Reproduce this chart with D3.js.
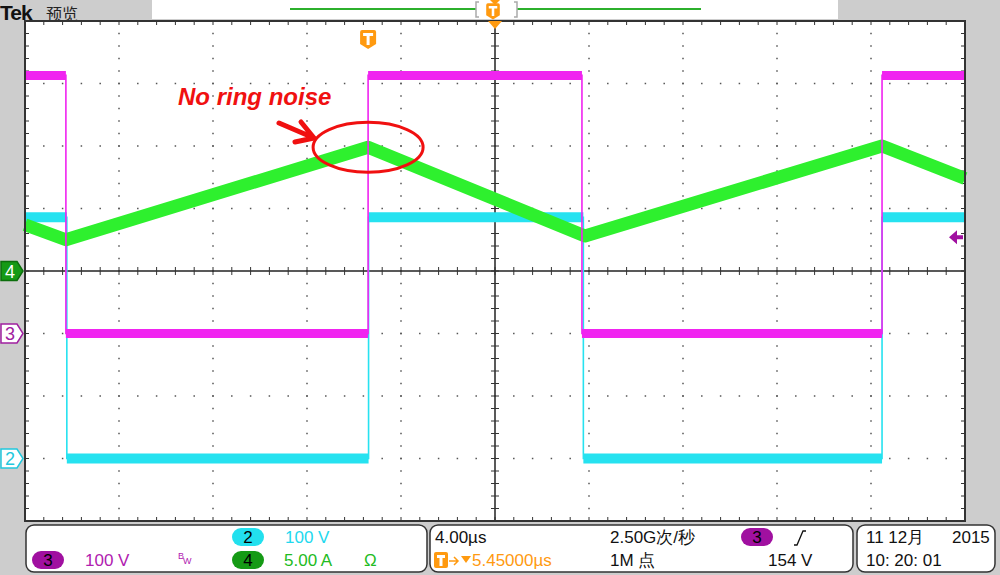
<!DOCTYPE html>
<html><head><meta charset="utf-8">
<script src="https://cdn.jsdelivr.net/npm/d3@7/dist/d3.min.js"></script>
<style>
html,body{margin:0;padding:0;background:#cdcdcd;}
svg{display:block;font-family:"Liberation Sans",Arial,sans-serif;}
</style></head><body>
<svg id="c" width="1000" height="575"></svg>
<script>
// ---- data (time in µs, 4 µs/div, trigger-centred) ----
const ch3Edges = [-20, -18.26, -5.40, 3.70, 16.47, 20];   // magenta edges
const ch3Volts = [413, 0, 413, 0, 413];                    // 100 V/div
const ch2Edges = [-20, -18.22, -5.38, 3.76, 16.47, 20];   // cyan edges
const ch2Volts = [386, 0, 386, 0, 386];                    // 100 V/div
const ch4Times = [-20, -18.26, -5.40, 3.83, 16.47, 20];   // green vertices
const ch4Amps  = [3.7, 2.5, 9.9, 2.8, 10.0, 7.4];          // 5 A/div
const offsets  = {ch2: -3, ch3: -1, ch4: 0};               // ground marker, div
const scales   = {ch2: 100, ch3: 100, ch4: 5};
const trigLevel = 154;                                     // V on ch3
const statusRow1 = ["2", "100 V", "4.00µs", "2.50G次/秒", "3", "11 12月", "2015"];
const statusRow2 = ["3", "100 V", "4", "5.00 A", "Ω", "5.45000µs", "1M 点", "154 V", "10: 20: 01"];

const svg = d3.select("#c");
const L = 25, R = 965, T = 21, B = 521;
const x = d3.scaleLinear().domain([-20, 20]).range([L, R]);
const yd = d3.scaleLinear().domain([-4, 4]).range([B, T]);
const yCh = ch => v => yd(v / scales[ch] + offsets[ch]);
const y2 = yCh("ch2"), y3 = yCh("ch3"), y4 = yCh("ch4");

// ---- top bar ----
svg.append("rect").attr("x",0).attr("y",0).attr("width",1000).attr("height",575).attr("fill","#cdcdcd");
svg.append("text").attr("x",0).attr("y",20).attr("font-size",21).attr("font-weight","bold")
  .attr("font-family","'Liberation Sans',Arial,sans-serif").attr("letter-spacing","-1").attr("fill","#111").text("Tek");
svg.append("text").attr("x",46).attr("y",20).attr("font-size",16)
  .attr("font-family","'Noto Sans CJK SC',sans-serif").attr("fill","#222").text("预览");
svg.append("rect").attr("x",152).attr("y",0).attr("width",686).attr("height",19).attr("fill","#fff");
svg.append("line").attr("x1",290).attr("x2",701).attr("y1",9).attr("y2",9).attr("stroke","#2cb02c").attr("stroke-width",2);
svg.append("rect").attr("x",476).attr("y",2).attr("width",41).attr("height",15).attr("fill","#fff");
svg.append("path").attr("d","M479,2 h-3 v15 h3 M514,2 h3 v15 h-3").attr("fill","none").attr("stroke","#aaa").attr("stroke-width",1.5);

// plot background
svg.append("rect").attr("x",L).attr("y",T).attr("width",R-L).attr("height",B-T).attr("fill","#fff");

// ---- grid dots ----
const g = svg.append("g");
const majX = d3.range(-20, 20.01, 4), majY = d3.range(-4, 4.01, 1);
const minX = d3.range(-20, 20.01, 0.8), minY = d3.range(-4, 4.01, 0.2);
majY.forEach(v => { if (v === 0 || v === -4 || v === 4) return;
  minX.forEach(t => g.append("rect").attr("x", x(t)-0.75).attr("y", yd(v)-0.75).attr("width",1.5).attr("height",1.5).attr("fill","#555")); });
majX.forEach(t => { if (t === 0 || t === -20 || t === 20) return;
  minY.forEach(v => g.append("rect").attr("x", x(t)-0.75).attr("y", yd(v)-0.75).attr("width",1.5).attr("height",1.5).attr("fill","#555")); });
// centre cross
g.append("line").attr("x1",L).attr("x2",R).attr("y1",yd(0)).attr("y2",yd(0)).attr("stroke","#222").attr("stroke-width",1.5);
g.append("line").attr("x1",x(0)).attr("x2",x(0)).attr("y1",T).attr("y2",B).attr("stroke","#222").attr("stroke-width",1.5);
minX.forEach(t => g.append("line").attr("x1",x(t)).attr("x2",x(t)).attr("y1",yd(0)-4).attr("y2",yd(0)+4).attr("stroke","#333"));
minY.forEach(v => g.append("line").attr("x1",x(0)-4).attr("x2",x(0)+4).attr("y1",yd(v)).attr("y2",yd(v)).attr("stroke","#333"));
// border ticks
minX.forEach(t => { g.append("line").attr("x1",x(t)).attr("x2",x(t)).attr("y1",T).attr("y2",T+4).attr("stroke","#333");
  g.append("line").attr("x1",x(t)).attr("x2",x(t)).attr("y1",B-4).attr("y2",B).attr("stroke","#333"); });
minY.forEach(v => { g.append("line").attr("x1",L).attr("x2",L+4).attr("y1",yd(v)).attr("y2",yd(v)).attr("stroke","#333");
  g.append("line").attr("x1",R-4).attr("x2",R).attr("y1",yd(v)).attr("y2",yd(v)).attr("stroke","#333"); });

// ---- traces ----
function stepTrace(edges, levels, yf, color, band) {
  const pts = levels.map((v,i) => [edges[i], v]);
  pts.push([edges[edges.length-1], levels[levels.length-1]]);
  const line = d3.line().x(d => x(d[0])).y(d => yf(d[1])).curve(d3.curveStepAfter);
  levels.forEach((v,i) => {
    svg.append("line").attr("x1", x(edges[i])).attr("x2", x(edges[i+1]))
      .attr("y1", yf(v)).attr("y2", yf(v)).attr("stroke", color).attr("stroke-width", band);
  });
  svg.append("path").attr("d", line(pts)).attr("fill","none").attr("stroke", color).attr("stroke-width", 1.6);
}
stepTrace(ch2Edges, ch2Volts, y2, "#26e2f0", 10);
const greenLine = d3.line().x((d,i) => x(ch4Times[i])).y(d => y4(d));
svg.append("path").attr("d", greenLine(ch4Amps)).attr("fill","none").attr("stroke","#2ef02e").attr("stroke-width",13).attr("stroke-linejoin","round");
stepTrace(ch3Edges, ch3Volts, y3, "#f024f0", 9);

// plot border
svg.append("rect").attr("x",L).attr("y",T).attr("width",R-L).attr("height",B-T).attr("fill","none").attr("stroke","#333").attr("stroke-width",2);

// ---- trigger markers ----
function tIcon(cx, cy, s) {
  const gg = svg.append("g").attr("transform",`translate(${cx},${cy}) scale(${s})`);
  gg.append("path").attr("d","M-8,-7 Q-8,-9 -6,-9 H6 Q8,-9 8,-7 V5 L0,10 L-8,5 Z").attr("fill","#ff9a10");
  gg.append("path").attr("d","M-5,-6 H5 V-3 H1.5 V6 H-1.5 V-3 H-5 Z").attr("fill","#fff");
}
tIcon(x(-5.40), 39, 1);
tIcon(493, 11, 0.85);
svg.append("path").attr("d",`M${x(0)-7},${T} L${x(0)+7},${T} L${x(0)},${T+8} Z`).attr("fill","#ff9a10");
svg.append("path").attr("d",`M${x(0)-5},0 L${x(0)+5},0 L${x(0)},5 Z`).attr("fill","#ff9a10");
// trigger level arrow (ch3)
const ty = y3(trigLevel);
svg.append("path").attr("d",`M${R-16},${ty} L${R-8},${ty-7} L${R-8},${ty-2} L${R-2},${ty-2} L${R-2},${ty+2} L${R-8},${ty+2} L${R-8},${ty+7} Z`).attr("fill","#a010a0");

// ---- channel ground markers ----
function chMarker(cy, label, fill, stroke, txt) {
  const gg = svg.append("g").attr("transform",`translate(0,${cy})`);
  gg.append("path").attr("d","M1,-9.5 H17 L23,0 L17,9.5 H1 Z").attr("fill",fill).attr("stroke",stroke).attr("stroke-width",1.5);
  gg.append("text").attr("x",10).attr("y",6.5).attr("text-anchor","middle").attr("font-size",18).attr("fill",txt).text(label);
}
chMarker(yd(offsets.ch4), "4", "#159a15", "#0c6e0c", "#fff");
chMarker(yd(offsets.ch3), "3", "#fff", "#a020a0", "#a020a0");
chMarker(yd(offsets.ch2), "2", "#fff", "#22c8dd", "#22c8dd");

// ---- annotation ----
const px = x(ch4Times[2]), py = y4(ch4Amps[2]);
svg.append("ellipse").attr("cx",px).attr("cy",py).attr("rx",55).attr("ry",25).attr("fill","none").attr("stroke","#f01010").attr("stroke-width",3);
svg.append("path").attr("d","M279,123 L314,138 M301,122 L314,138 L295,142").attr("fill","none").attr("stroke","#f01010").attr("stroke-width",5).attr("stroke-linecap","round").attr("stroke-linejoin","round");
svg.append("text").attr("x",178).attr("y",105).attr("font-size",24).attr("font-weight","bold").attr("font-style","italic").attr("fill","#f01010").text("No ring noise");

// ---- status bar ----
function box(x0, x1) {
  svg.append("rect").attr("x",x0).attr("y",525).attr("width",x1-x0).attr("height",47).attr("rx",8).attr("fill","#fff").attr("stroke","#333").attr("stroke-width",1.5);
}
box(26, 427); box(430, 853); box(857, 995);
function pill(cx, cy, label, fill) {
  svg.append("rect").attr("x",cx-16).attr("y",cy-9).attr("width",32).attr("height",18).attr("rx",9).attr("fill",fill);
  svg.append("text").attr("x",cx).attr("y",cy+6).attr("text-anchor","middle").attr("font-size",17).attr("fill","#000").text(label);
}
function txt(xx, yy, s, col, fs) {
  svg.append("text").attr("x",xx).attr("y",yy).attr("font-size",fs||17).attr("fill",col).text(s);
}
const r1 = 543, r2 = 566;
pill(248, 537, statusRow1[0], "#22e0ee");
txt(285, r1, statusRow1[1], "#22d8ee");
pill(48, 560, statusRow2[0], "#a010a0");
txt(85, r2, statusRow2[1], "#b020b0");
svg.append("text").attr("x",178).attr("y",559).attr("font-size",9).attr("fill","#b020b0").text("B");
svg.append("text").attr("x",183).attr("y",564).attr("font-size",9).attr("fill","#b020b0").text("W");
pill(248, 560, statusRow2[2], "#159a15");
txt(284, r2, statusRow2[3], "#22bb22");
txt(364, r2, statusRow2[4], "#22bb22");
txt(435, r1, statusRow1[2], "#111");
// orange T→▼
svg.append("rect").attr("x",434).attr("y",552).attr("width",14).attr("height",16).attr("rx",2).attr("fill","#ff9a10");
svg.append("path").attr("d","M437,555 H445 V558 H442.5 V566 H439.5 V558 H437 Z").attr("fill","#fff");
svg.append("path").attr("d","M449,561 H458 M454,557 L458,561 L454,565").attr("fill","none").attr("stroke","#ff9a10").attr("stroke-width",1.5);
svg.append("path").attr("d","M461,556 L471,556 L466,563 Z").attr("fill","#ff9a10");
txt(472, r2, statusRow2[5], "#ff9a10");
txt(610, r1, statusRow1[3], "#111");
txt(610, r2, statusRow2[6], "#111");
pill(757, 537, statusRow1[4], "#a010a0");
svg.append("path").attr("d","M794,545 H797 L803,531 H806").attr("fill","none").attr("stroke","#111").attr("stroke-width",1.3);
txt(768, r2, statusRow2[7], "#111");
txt(866, r1, statusRow1[5], "#111");
txt(952, r1, statusRow1[6], "#111");
txt(866, r2, statusRow2[8], "#111");
</script>
</body></html>
